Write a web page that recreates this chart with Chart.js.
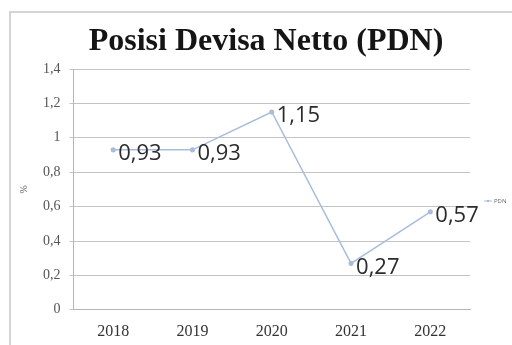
<!DOCTYPE html>
<html lang="id">
<head>
  <meta charset="UTF-8" />
  <title>Posisi Devisa Netto (PDN)</title>
  <script src="https://cdn.jsdelivr.net/npm/chart.js"></script>
  <style>
    html, body { margin: 0; padding: 0; background: #fff; }
    #wrap { position: relative; width: 512px; height: 345px; overflow: hidden; }
    #frame { position: absolute; left: 9px; top: 11px; width: 520px; height: 360px;
             border-top: 2px solid #d4d4d4; border-left: 2px solid #d4d4d4; }
    #box { position: absolute; left: 0; top: 0; width: 512px; height: 345px; }
  </style>
</head>
<body>
  <div id="wrap">
    <div id="frame"></div>
    <div id="box"><canvas id="chart"></canvas></div>
  </div>

  <script>
    const years = ["2018", "2019", "2020", "2021", "2022"];
    const pdn = [0.93, 0.93, 1.15, 0.27, 0.57];
    const seriesName = "PDN";
    const chartTitle = "Posisi Devisa Netto (PDN)";
    const lineColor = "#a9bddb";

    const fmt = v => String(+Number(v).toFixed(2)).replace(".", ",");

    // title, value labels next to each point, and the small legend entry
    const extras = {
      id: "extras",
      afterDatasetsDraw(chart) {
        const ctx = chart.ctx;
        const meta = chart.getDatasetMeta(0);
        ctx.save();

        ctx.font = "bold 32px 'Liberation Serif', serif";
        ctx.fillStyle = "#151515";
        ctx.textAlign = "center";
        ctx.textBaseline = "middle";
        ctx.fillText(chartTitle, 266, 42);

        ctx.font = "22px 'Open Sans', sans-serif";
        ctx.fillStyle = "#2b2b2b";
        ctx.textAlign = "left";
        meta.data.forEach((pt, i) => {
          ctx.fillText(fmt(pdn[i]), pt.x + 5, pt.y + 4);
        });

        const lx = 484, ly = 201;
        ctx.strokeStyle = lineColor;
        ctx.lineWidth = 1;
        ctx.beginPath();
        ctx.moveTo(lx, ly); ctx.lineTo(lx + 8, ly);
        ctx.stroke();
        ctx.fillStyle = lineColor;
        ctx.beginPath(); ctx.arc(lx + 4, ly, 1.3, 0, Math.PI * 2); ctx.fill();
        ctx.font = "6px 'Open Sans', sans-serif";
        ctx.fillStyle = "#666";
        ctx.fillText(seriesName, lx + 10, ly);
        ctx.restore();
      }
    };

    new Chart(document.getElementById("chart"), {
      type: "line",
      data: {
        labels: years,
        datasets: [{
          label: seriesName,
          data: pdn,
          borderColor: lineColor,
          backgroundColor: lineColor,
          borderWidth: 1.5,
          pointRadius: 1.8,
          pointHoverRadius: 1.8,
          tension: 0
        }]
      },
      options: {
        responsive: true,
        maintainAspectRatio: false,
        animation: false,
        layout: { padding: { left: 14, right: 42, top: 69, bottom: 0 } },
        plugins: {
          legend: { display: false },
          tooltip: { enabled: false },
          title: { display: false }
        },
        scales: {
          x: {
            offset: true,
            grid: { display: false },
            border: { display: true, color: "#b5b5b5" },
            ticks: {
              color: "#333",
              font: { family: "'Liberation Serif', serif", size: 16 },
              padding: 4
            }
          },
          y: {
            min: 0,
            max: 1.4,
            ticks: {
              stepSize: 0.2,
              color: "#555",
              font: { family: "'Liberation Serif', serif", size: 14 },
              padding: 9,
              callback: v => fmt(v)
            },
            grid: { color: "#c4c4c4", tickLength: 4 },
            border: { display: true, color: "#b5b5b5" },
            title: {
              display: true,
              text: "%",
              color: "#555",
              font: { family: "'Liberation Serif', serif", size: 10 },
              padding: 4
            }
          }
        }
      },
      plugins: [extras]
    });
  </script>
</body>
</html>
